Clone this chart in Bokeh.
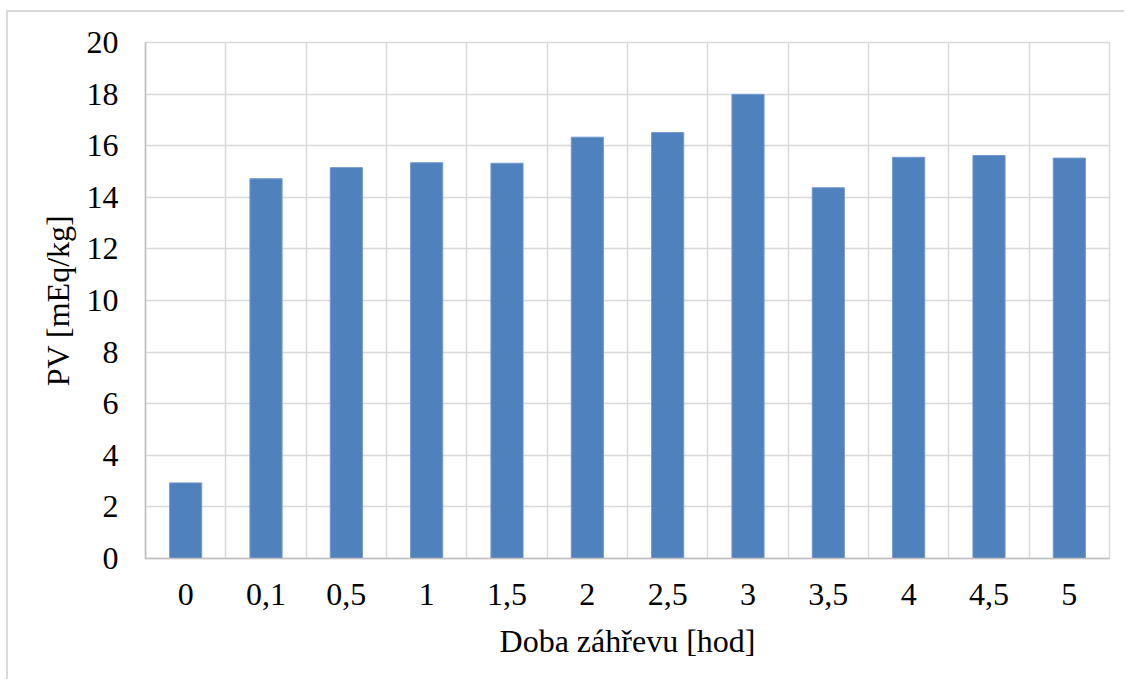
from bokeh.plotting import figure
from bokeh.models import FixedTicker, Range1d, Grid, ColumnDataSource
from bokeh.embed import file_html
from bokeh.resources import INLINE

# Heating time categories (hours) and peroxide values
categories = ["0", "0,1", "0,5", "1", "1,5", "2", "2,5", "3", "3,5", "4", "4,5", "5"]
pv_values = [2.93, 14.72, 15.15, 15.34, 15.32, 16.33, 16.51, 17.99, 14.37, 15.55, 15.62, 15.52]
y_ticks = [0, 2, 4, 6, 8, 10, 12, 14, 16, 18, 20]

FONT = "Liberation Serif"
FONT_SIZE = "32px"
GRID = "#d9d9d9"
AXIS = "#bfbfbf"

# the chart sits inside a light frame offset from the page corner
OFF_X, OFF_Y = 8, 12

positions = [i + 0.5 for i in range(len(categories))]
source = ColumnDataSource(dict(x=positions, top=pv_values, label=categories))

p = figure(
    width=1126 - OFF_X, height=681 - OFF_Y,
    x_range=Range1d(0, len(categories)), y_range=Range1d(0, 20),
    output_backend="svg", toolbar_location=None,
    min_border_left=145 - OFF_X, min_border_top=42 - OFF_Y,
    min_border_right=17, min_border_bottom=123,
)
p.margin = (OFF_Y - 2, 0, 0, OFF_X - 2)
p.styles = {"border-left": "2px solid #d9d9d9", "border-top": "2px solid #d9d9d9"}
p.background_fill_color = "white"
p.border_fill_color = "white"
p.outline_line_color = GRID
p.outline_line_width = 1.5

p.vbar(x="x", top="top", width=0.4, bottom=0, source=source,
       fill_color="#4f81bd", line_color="#7399cf", line_width=1)

# y axis
p.yaxis.ticker = FixedTicker(ticks=y_ticks)
p.yaxis.axis_label = "PV [mEq/kg]"
p.yaxis.axis_line_color = AXIS
p.yaxis.axis_line_width = 1.5
p.yaxis.major_tick_line_color = None
p.yaxis.minor_tick_line_color = None
p.yaxis.major_tick_out = 0
p.yaxis.major_label_standoff = 27
p.yaxis.axis_label_standoff = 8

# x axis: one label per category centre
p.xaxis.ticker = FixedTicker(ticks=positions)
p.xaxis.major_label_overrides = {x: lab for x, lab in zip(positions, categories)}
p.xaxis.axis_label = "Doba záhřevu [hod]"
p.xaxis.axis_line_color = AXIS
p.xaxis.axis_line_width = 1.5
p.xaxis.major_tick_line_color = None
p.xaxis.minor_tick_line_color = None
p.xaxis.major_tick_out = 0
p.xaxis.major_label_standoff = 25
p.xaxis.axis_label_standoff = 15

for ax in (p.xaxis, p.yaxis):
    ax.major_label_text_font = FONT
    ax.major_label_text_font_size = FONT_SIZE
    ax.major_label_text_color = "black"
    ax.axis_label_text_font = FONT
    ax.axis_label_text_font_size = FONT_SIZE
    ax.axis_label_text_font_style = "normal"
    ax.axis_label_text_color = "black"

# horizontal grid at y ticks, vertical grid at category boundaries
p.ygrid.grid_line_color = GRID
p.ygrid.grid_line_width = 1.5
p.xgrid.grid_line_color = None
vgrid = Grid(dimension=0, ticker=FixedTicker(ticks=list(range(1, len(categories)))),
             grid_line_color=GRID, grid_line_width=1.5)
p.add_layout(vgrid)

open("out.html", "w").write(file_html(p, INLINE))
